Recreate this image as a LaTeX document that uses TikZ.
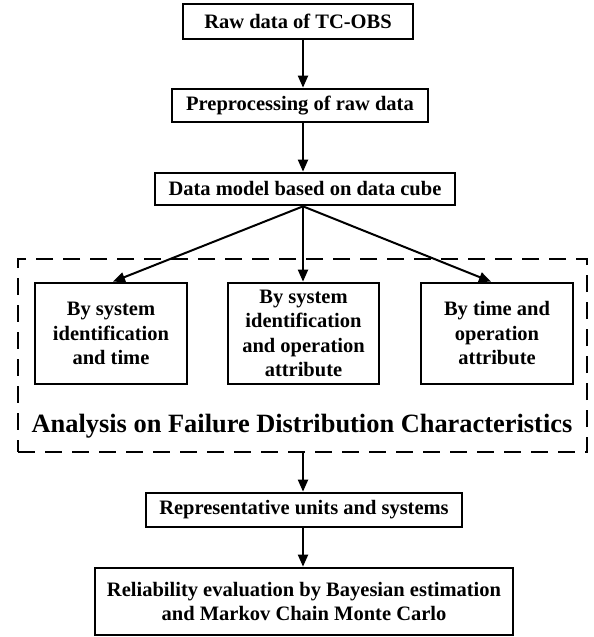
\documentclass[tikz,border=0pt]{standalone}
\usepackage{fontspec}
\setmainfont{Liberation Serif}
\usetikzlibrary{arrows.meta}
\begin{document}
\begin{tikzpicture}[x=1pt,y=-1pt,
  box/.style={draw, line width=2.7pt, inner sep=1pt, align=center, font=\bfseries\fontsize{20.5}{24.5}\selectfont},
  frame/.style={draw, line width=2.7pt, dash pattern=on 17pt off 10pt, inner sep=0pt},
  conn/.style={line width=2pt, -{Triangle[length=12pt,width=10pt]}}]
\useasboundingbox (0,0) rectangle (594,637);
\node[box, minimum width=230pt, minimum height=35pt] (raw) at (298,21.5) {Raw data of TC-OBS};
\node[box, minimum width=256pt, minimum height=33pt] (pre) at (300,105.5) {Preprocessing of raw data};
\node[box, minimum width=300pt, minimum height=32pt] (cube) at (305,189) {Data model based on data cube};
\node[frame, minimum width=569pt, minimum height=193pt] (fr) at (302.5,355.5) {};
\node[box, minimum width=152pt, minimum height=101pt] (b1) at (111,333.5) {By system\\identification\\and time};
\node[box, minimum width=151pt, minimum height=101pt] (b2) at (303.5,333.5) {By system\\identification\\and operation\\attribute};
\node[box, minimum width=152pt, minimum height=101pt] (b3) at (497,333.5) {By time and\\operation\\attribute};
\node[font=\bfseries\fontsize{26.4}{30}\selectfont, anchor=base] (title) at (302,432) {Analysis on Failure Distribution Characteristics};
\node[box, minimum width=316pt, minimum height=34pt] (rep) at (304,510) {Representative units and systems};
\node[box, minimum width=418pt, minimum height=67pt] (rel) at (304,601.5) {Reliability evaluation by Bayesian estimation\\and Markov Chain Monte Carlo};
\coordinate (ax) at (303,0);
\draw[conn] (raw.south -| ax) -- (pre.north -| ax);
\draw[conn] (pre.south -| ax) -- (cube.north -| ax);
\draw[conn] (cube.south -| ax) -- ([xshift=2pt]b1.north);
\draw[conn] (cube.south -| ax) -- (b2.north -| ax);
\draw[conn] (cube.south -| ax) -- ([xshift=-6pt]b3.north);
\draw[conn] (fr.south -| ax) -- (rep.north -| ax);
\draw[conn] (rep.south -| ax) -- (rel.north -| ax);
\end{tikzpicture}
\end{document}
